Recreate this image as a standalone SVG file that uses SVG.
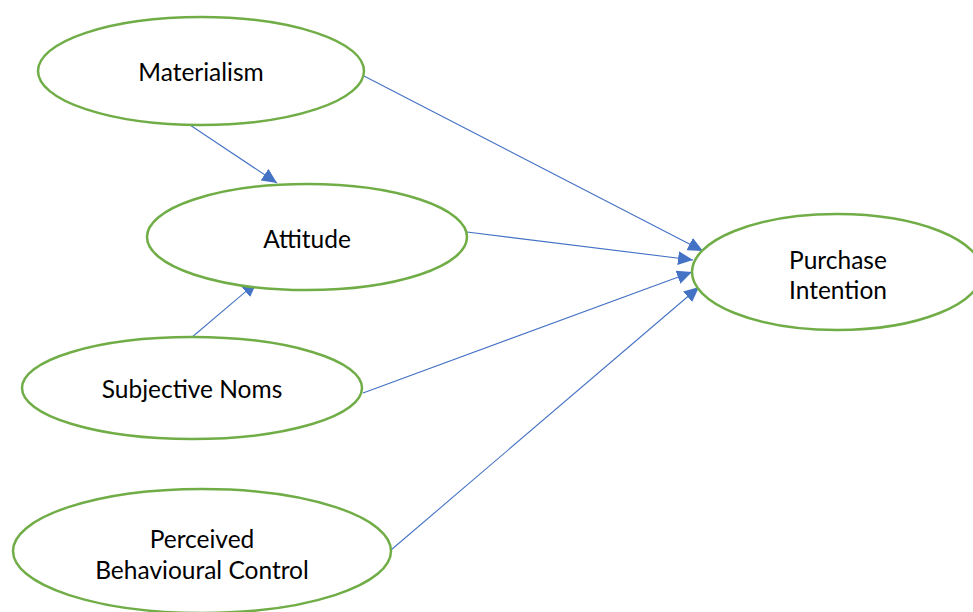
<svg xmlns="http://www.w3.org/2000/svg" width="973" height="612" viewBox="0 0 973 612">
<style>
.node ellipse{fill:#fff;stroke:#70AD47;stroke-width:2.5}
.node text{font-family:Lato,"Open Sans","Liberation Sans",sans-serif;font-size:24.5px;fill:#000;text-anchor:middle;dominant-baseline:central}
.conn line{stroke:#4472C4;stroke-width:1.1;marker-end:url(#ah)}
</style>
<defs>
<marker id="ah" markerUnits="userSpaceOnUse" markerWidth="16" markerHeight="14" refX="15" refY="7" orient="auto">
<path d="M0,0 L15,7 L0,14 Z" fill="#4472C4"/>
</marker>
</defs>
<rect width="973" height="612" fill="#fff"/>
<g id="connectors" class="conn">
<line x1="364" y1="76" x2="703" y2="251"/>
<line x1="467" y1="232" x2="693" y2="260"/>
<line x1="363" y1="393" x2="692" y2="272"/>
<line x1="391" y1="550" x2="699" y2="287"/>
<line x1="190" y1="125" x2="277" y2="183"/>
<line x1="191" y1="338" x2="257" y2="282"/>
</g>
<g id="materialism" class="node">
<ellipse cx="201" cy="71" rx="163" ry="54"/>
<text x="201" y="71">Materialism</text>
</g>
<g id="attitude" class="node">
<ellipse cx="307" cy="237" rx="160" ry="53"/>
<text x="307" y="238">Attitude</text>
</g>
<g id="subjective" class="node">
<ellipse cx="192" cy="388" rx="170" ry="51"/>
<text x="192" y="388">Subjective Noms</text>
</g>
<g id="perceived" class="node">
<ellipse cx="202" cy="551" rx="189" ry="62"/>
<text x="202" y="538">Perceived</text>
<text x="202" y="569">Behavioural Control</text>
</g>
<g id="purchase" class="node">
<ellipse cx="837" cy="272" rx="145" ry="58"/>
<text x="838" y="259">Purchase</text>
<text x="838" y="289">Intention</text>
</g>
</svg>
